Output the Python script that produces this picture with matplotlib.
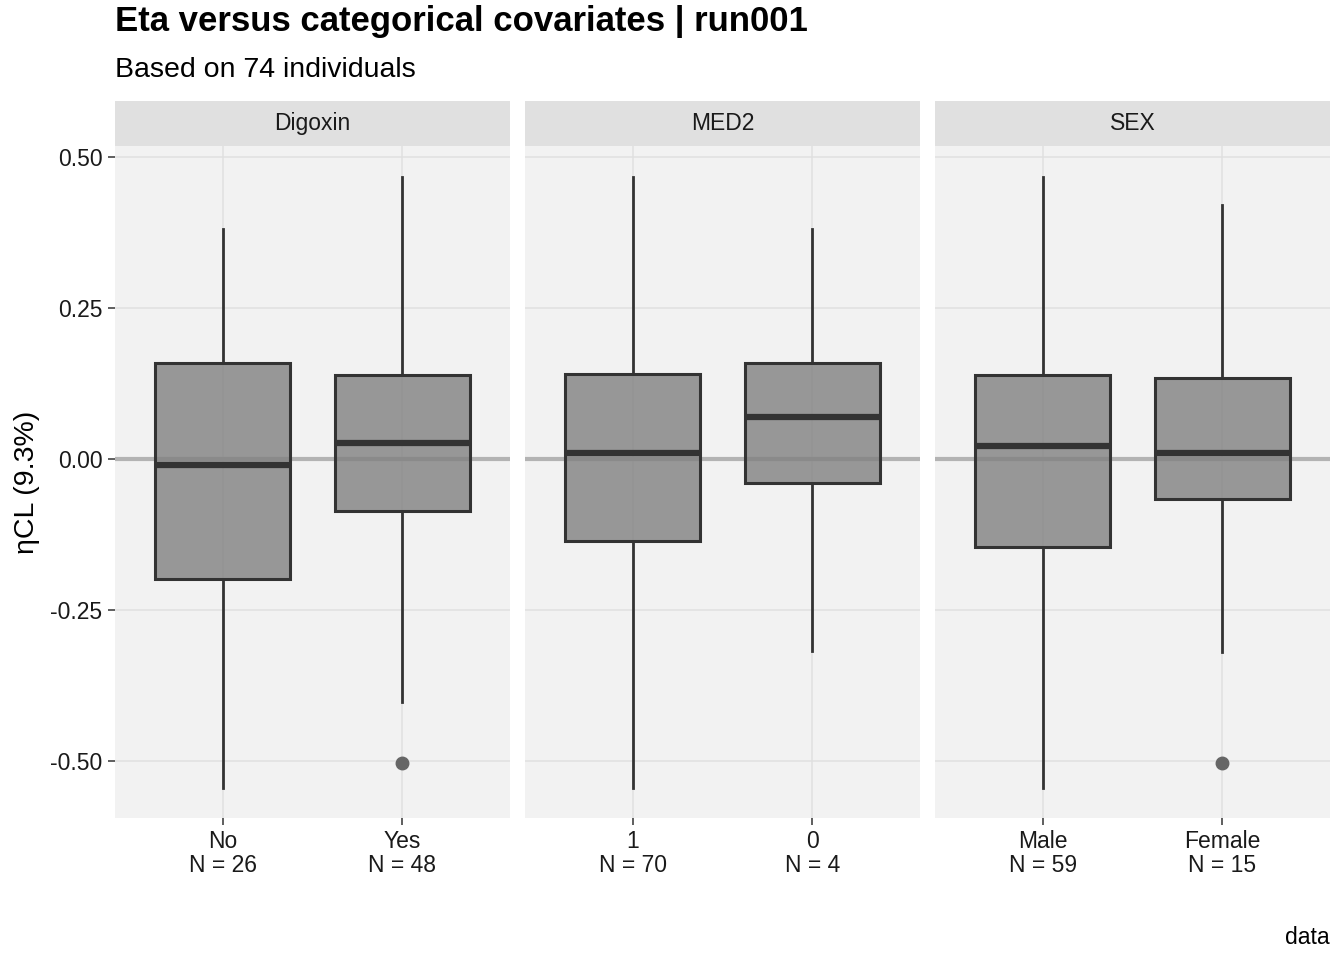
import numpy as np
import matplotlib
matplotlib.use("Agg")
import matplotlib.pyplot as plt

plt.rcParams['font.family'] = ['Liberation Sans', 'DejaVu Sans']

# facet data
facets = ['Digoxin', 'MED2', 'SEX']
levels = [['No', 'Yes'], ['1', '0'], ['Male', 'Female']]
counts = [[26, 48], [70, 4], [59, 15]]
whislo = [[-0.546, -0.403], [-0.546, -0.318], [-0.546, -0.320]]
q1 = [[-0.199, -0.086], [-0.136, -0.040], [-0.146, -0.066]]
med = [[-0.010, 0.027], [0.010, 0.070], [0.022, 0.010]]
q3 = [[0.159, 0.139], [0.141, 0.159], [0.139, 0.134]]
whishi = [[0.381, 0.468], [0.468, 0.381], [0.468, 0.421]]
fliers = [[[], [-0.504]], [[], []], [[], [-0.504]]]

W, H = 1344, 960
fig = plt.figure(figsize=(W / 100, H / 100), dpi=100)

panel_x = [115, 525, 935]
panel_w = 395
top, bottom = 146, 818
strip_h = 45
yticks = [-0.50, -0.25, 0.00, 0.25, 0.50]

for i, name in enumerate(facets):
    x0 = panel_x[i]
    ax = fig.add_axes([x0 / W, (H - bottom) / H, panel_w / W, (bottom - top) / H])
    ax.set_facecolor('#F2F2F2')
    for s in ax.spines.values():
        s.set_visible(False)
    ax.set_xlim(0.4, 2.6)
    ax.set_ylim(-0.595, 0.519)
    ax.grid(True, color='#E0E0E0', lw=1.1, zorder=0)
    ax.set_axisbelow(True)
    ax.axhline(0, color='#B3B3B3', lw=3, zorder=1)

    stats = []
    for j in range(2):
        stats.append(dict(whislo=whislo[i][j], q1=q1[i][j], med=med[i][j],
                          q3=q3[i][j], whishi=whishi[i][j], fliers=fliers[i][j]))
    ax.bxp(stats, positions=[1, 2], widths=0.75, patch_artist=True, showcaps=False,
           boxprops=dict(facecolor=(0.5, 0.5, 0.5, 0.8), edgecolor='#333333', lw=2.2),
           medianprops=dict(color='#333333', lw=4.5, solid_capstyle='butt'),
           whiskerprops=dict(color='#333333', lw=2),
           flierprops=dict(marker='o', markerfacecolor='#666666', markeredgecolor='#666666',
                           markersize=9),
           zorder=2)

    ax.set_xticks([1, 2])
    ax.set_xticklabels([f'{lv}\nN = {n}' for lv, n in zip(levels[i], counts[i])],
                       fontsize=16.5, color='#1A1A1A', linespacing=1.0)
    ax.tick_params(axis='x', length=5, width=1.1, color='#333333', pad=4)
    ax.set_yticks(yticks)
    if i == 0:
        ax.set_yticklabels([f'{v:.2f}' for v in yticks], fontsize=16.5, color='#1A1A1A')
        ax.tick_params(axis='y', length=5, width=1.1, color='#333333', pad=4)
    else:
        ax.tick_params(axis='y', length=0, labelleft=False)

    sax = fig.add_axes([x0 / W, (H - top) / H, panel_w / W, strip_h / H])
    sax.set_facecolor('#E0E0E0')
    sax.set_xticks([])
    sax.set_yticks([])
    for s in sax.spines.values():
        s.set_visible(False)
    sax.text(0.5, 0.5, name, ha='center', va='center', fontsize=16.5, color='#1A1A1A',
             transform=sax.transAxes)

fig.text(115 / W, 1 - 22 / H, 'Eta versus categorical covariates | run001', fontsize=25,
         fontweight='bold', ha='left', va='center')
fig.text(115 / W, 1 - 70 / H, 'Based on 74 individuals', fontsize=20.5, ha='left', va='center')
fig.text(27 / W, 1 - 482 / H, 'ηCL (9.3%)', fontsize=20.5, rotation=90, ha='center', va='center')
fig.text(1330 / W, 1 - 937 / H, 'data', fontsize=16.5, ha='right', va='center')

fig.savefig('out.png', dpi=100)
